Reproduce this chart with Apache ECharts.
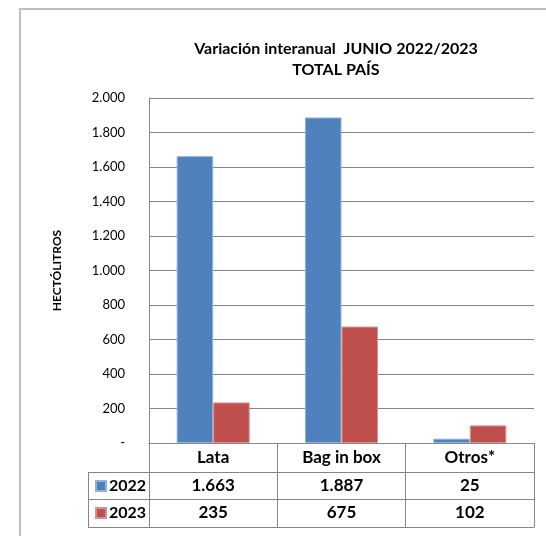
<!DOCTYPE html>
<html>
<head>
<meta charset="utf-8">
<script src="https://cdn.jsdelivr.net/npm/echarts@6/dist/echarts.min.js"></script>
<style>html,body{margin:0;padding:0;background:#fff;}#c{width:546px;height:536px;}</style>
</head>
<body>
<div id="c"></div>
<script>
var categories = ['Lata', 'Bag in box', 'Otros*'];
var seriesNames = ['2022', '2023'];
var values2022 = [1663, 1887, 25];
var values2023 = [235, 675, 102];
var yTicks = { min: 0, max: 2000, interval: 200 };

function fmt(v) {
  if (v === 0) return '-';
  return String(v).replace(/\B(?=(\d{3})+(?!\d))/g, '.');
}

var FONT = 'Lato';
var GRAY = '#868686';
var chart = echarts.init(document.getElementById('c'));
var bold17 = { fontFamily: FONT, fontWeight: 'bold', fontSize: 17, color: '#000' };

chart.setOption({
  animation: false,
  textStyle: { fontFamily: FONT },
  title: {
    text: 'Variación interanual  JUNIO 2022/2023\nTOTAL PAÍS',
    left: 331, top: 33, textAlign: 'center',
    textStyle: { fontFamily: FONT, fontWeight: 'bold', fontSize: 16, lineHeight: 21, color: '#000' }
  },
  legend: {
    orient: 'vertical', left: 95, top: 476, padding: 0,
    itemWidth: 10, itemHeight: 10, itemGap: 7, icon: 'rect',
    selectedMode: false,
    textStyle: { fontFamily: FONT, fontWeight: 'bold', fontSize: 16, color: '#000', lineHeight: 20, padding: [0, 0, 0, -2] },
    data: seriesNames
  },
  grid: { left: 149, right: 12, top: 98, bottom: 93, containLabel: false },
  xAxis: [
    {
      type: 'category', data: categories, position: 'bottom',
      axisLine: { lineStyle: { color: GRAY, width: 1 } },
      axisTick: { show: true, length: 29, lineStyle: { color: GRAY } },
      axisLabel: Object.assign({ margin: 6, interval: 0 }, bold17)
    },
    {
      type: 'category', data: values2022.map(fmt), position: 'bottom', offset: 29,
      axisLine: { lineStyle: { color: GRAY, width: 1 } },
      axisTick: { show: true, length: 27, lineStyle: { color: GRAY } },
      axisLabel: Object.assign({ margin: 5, interval: 0 }, bold17)
    },
    {
      type: 'category', data: values2023.map(fmt), position: 'bottom', offset: 56,
      axisLine: { lineStyle: { color: GRAY, width: 1 } },
      axisTick: { show: true, length: 28, lineStyle: { color: GRAY } },
      axisLabel: Object.assign({ margin: 5, interval: 0 }, bold17)
    },
    {
      type: 'category', data: categories, position: 'bottom', offset: 84,
      axisLine: { lineStyle: { color: GRAY, width: 1 } },
      axisTick: { show: false }, axisLabel: { show: false }
    }
  ],
  yAxis: {
    type: 'value', min: yTicks.min, max: yTicks.max, interval: yTicks.interval,
    name: 'HECTÓLITROS', nameLocation: 'middle', nameGap: 86, nameRotate: 90,
    nameTextStyle: { fontFamily: FONT, fontWeight: 'bold', fontSize: 12, color: '#000' },
    axisLine: { show: true, lineStyle: { color: GRAY } },
    axisTick: { show: false },
    splitLine: { lineStyle: { color: GRAY, width: 1 } },
    axisLabel: { margin: 24, fontFamily: FONT, fontSize: 13, color: '#000', formatter: fmt }
  },
  series: [
    {
      name: seriesNames[0], type: 'bar', data: values2022, xAxisIndex: 0,
      barWidth: 36.5, barGap: '0%',
      itemStyle: { color: '#4F81BD', borderColor: '#8FB1DC', borderWidth: 1 }
    },
    {
      name: seriesNames[1], type: 'bar', data: values2023, xAxisIndex: 0,
      barWidth: 36.5, barGap: '0%',
      itemStyle: { color: '#C0504D', borderColor: '#DC8E8C', borderWidth: 1 }
    }
  ],
  graphic: [
    { type: 'rect', shape: { x: 20, y: 9, width: 560, height: 560 }, style: { fill: 'none', stroke: '#BFBFBF', lineWidth: 2 }, z: -1 },
    { type: 'line', shape: { x1: 88, y1: 472.5, x2: 149, y2: 472.5 }, style: { stroke: GRAY, lineWidth: 1 } },
    { type: 'line', shape: { x1: 88, y1: 499.5, x2: 149, y2: 499.5 }, style: { stroke: GRAY, lineWidth: 1 } },
    { type: 'line', shape: { x1: 88, y1: 527.5, x2: 149, y2: 527.5 }, style: { stroke: GRAY, lineWidth: 1 } },
    { type: 'line', shape: { x1: 88.5, y1: 472, x2: 88.5, y2: 528 }, style: { stroke: GRAY, lineWidth: 1 } }
  ]
});
</script>
</body>
</html>
